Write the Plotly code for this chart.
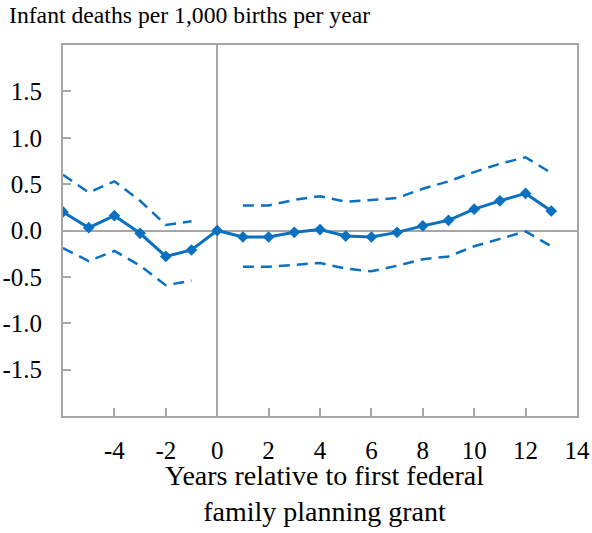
import plotly.graph_objects as go

years = list(range(-6, 14))
estimate = [0.20, 0.03, 0.16, -0.03, -0.28, -0.21, 0.00, -0.07, -0.07, -0.02, 0.01, -0.06,
            -0.07, -0.02, 0.05, 0.11, 0.23, 0.32, 0.40, 0.21]
upper = [0.60, 0.41, 0.53, 0.32, 0.06, 0.10, None, 0.27, 0.27, 0.33, 0.37, 0.31,
         0.33, 0.35, 0.45, 0.53, 0.63, 0.72, 0.79, 0.62]
lower = [-0.19, -0.33, -0.22, -0.38, -0.59, -0.54, None, -0.39, -0.39, -0.37, -0.35, -0.41,
         -0.44, -0.38, -0.31, -0.28, -0.17, -0.09, -0.01, -0.17]

x_ticks = [-4, -2, 0, 2, 4, 6, 8, 10, 12, 14]
x_tick_text = ["-4", "-2", "0", "2", "4", "6", "8", "10", "12", "14"]
y_ticks = [-1.5, -1.0, -0.5, 0.0, 0.5, 1.0, 1.5]
y_tick_text = ["-1.5", "-1.0", "-0.5", "0.0", "0.5", "1.0", "1.5"]

blue = "#0A70C2"
grey = "#A6A6A6"
serif = "Liberation Serif"

fig = go.Figure()
for band in (upper, lower):
    fig.add_trace(go.Scatter(x=years, y=band, mode="lines", connectgaps=False,
                             line=dict(color=blue, width=2.5, dash="11px,7px"),
                             showlegend=False, hoverinfo="skip"))
fig.add_trace(go.Scatter(x=years, y=estimate, mode="lines+markers",
                         line=dict(color=blue, width=3),
                         marker=dict(symbol="diamond", size=9, color=blue),
                         showlegend=False))

axis_common = dict(ticks="inside", ticklen=8, tickcolor=grey, tickwidth=1.5,
                   showline=True, linecolor=grey, linewidth=2, mirror=True,
                   showgrid=False, zeroline=True, zerolinecolor=grey, zerolinewidth=1.5,
                   automargin=False, ticklabeloverflow="allow",
                   tickfont=dict(family=serif, size=25, color="black"))

fig.update_layout(
    width=592, height=533,
    margin=dict(l=63, r=15, t=45, b=117),
    paper_bgcolor="white", plot_bgcolor="white",
    font=dict(family=serif, size=20, color="black"),
    xaxis=dict(range=[-6, 14], tickvals=x_ticks, ticktext=x_tick_text,
               ticklabelstandoff=11, **axis_common),
    yaxis=dict(range=[-2, 2], tickvals=y_ticks, ticktext=y_tick_text,
               ticklabelstandoff=14, **axis_common),
    annotations=[
        dict(text="Infant deaths per 1,000 births per year", xref="paper", yref="paper",
             x=0, y=1, xshift=-56, yshift=30, xanchor="left", yanchor="middle",
             showarrow=False, font=dict(family=serif, size=23.7, color="black")),
        dict(text="Years relative to first federal<br>family planning grant",
             xref="paper", yref="paper", x=0.5, y=0, xshift=4, yshift=-77,
             xanchor="center", yanchor="middle", showarrow=False,
             font=dict(family=serif, size=28, color="black")),
    ],
)

fig.write_html("out.html", config={"displayModeBar": False},
               post_script="document.body.style.margin='0';document.body.style.padding='0';")
